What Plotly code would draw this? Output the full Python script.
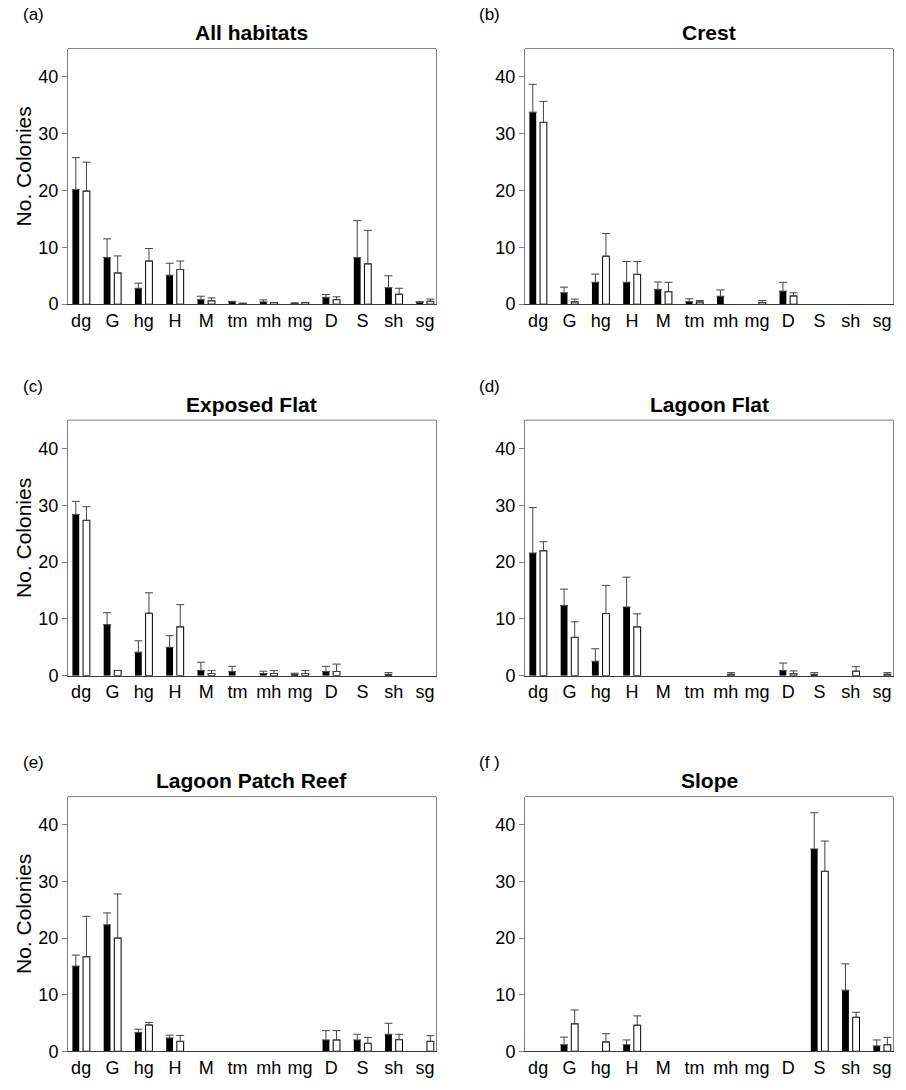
import plotly.graph_objects as go
from plotly.subplots import make_subplots

categories = ["dg", "G", "hg", "H", "M", "tm", "mh", "mg", "D", "S", "sh", "sg"]

titles = ["All habitats", "Crest", "Exposed Flat", "Lagoon Flat", "Lagoon Patch Reef", "Slope"]
panel_labels = ["(a)", "(b)", "(c)", "(d)", "(e)", "(f )"]

# (a) All habitats
a_black = [20.2, 8.2, 2.8, 5.1, 0.8, 0.4, 0.4, 0.15, 1.2, 8.2, 2.9, 0.3]
a_black_err = [5.6, 3.3, 0.9, 2.1, 0.6, 0.1, 0.35, 0, 0.5, 6.5, 2.1, 0.15]
a_white = [19.9, 5.5, 7.6, 6.1, 0.6, 0.15, 0.3, 0.3, 0.8, 7.1, 1.75, 0.5]
a_white_err = [5.1, 3.0, 2.2, 1.5, 0.5, 0, 0, 0, 0.5, 5.9, 1.05, 0.4]

# (b) Crest
b_black = [33.8, 2.0, 3.85, 3.85, 2.6, 0.45, 1.4, 0, 2.3, 0, 0, 0]
b_black_err = [4.9, 1.0, 1.45, 3.65, 1.3, 0.5, 1.1, 0, 1.55, 0, 0, 0]
b_white = [32.0, 0.4, 8.45, 5.25, 2.2, 0.4, 0, 0.3, 1.45, 0, 0, 0]
b_white_err = [3.7, 0.5, 4.0, 2.25, 1.65, 0.25, 0, 0.35, 0.55, 0, 0, 0]

# (c) Exposed Flat
c_black = [28.4, 9.0, 4.15, 5.0, 0.93, 0.75, 0.4, 0.25, 0.75, 0, 0.25, 0]
c_black_err = [2.3, 2.1, 2.0, 2.05, 1.45, 0.9, 0.4, 0.2, 0.9, 0, 0.3, 0]
c_white = [27.35, 0.93, 11.0, 8.6, 0.4, 0, 0.4, 0.4, 0.75, 0, 0, 0]
c_white_err = [2.4, 0, 3.6, 3.9, 0.5, 0, 0.5, 0.5, 1.3, 0, 0, 0]

# (d) Lagoon Flat
d_black = [21.6, 12.35, 2.55, 12.1, 0, 0, 0, 0, 0.93, 0.25, 0, 0]
d_black_err = [8.0, 2.9, 2.2, 5.25, 0, 0, 0, 0, 1.3, 0.3, 0, 0]
d_white = [22.0, 6.75, 10.95, 8.6, 0, 0, 0.25, 0, 0.35, 0, 0.8, 0.25]
d_white_err = [1.6, 2.75, 4.95, 2.3, 0, 0, 0.3, 0, 0.5, 0, 0.8, 0.3]

# (e) Lagoon Patch Reef
e_black = [15.05, 22.35, 3.3, 2.35, 0, 0, 0, 0, 2.0, 2.0, 3.0, 0]
e_black_err = [1.95, 2.1, 0.6, 0.5, 0, 0, 0, 0, 1.65, 1.0, 1.95, 0]
e_white = [16.7, 20.0, 4.65, 1.75, 0, 0, 0, 0, 2.0, 1.4, 2.05, 1.75]
e_white_err = [7.15, 7.8, 0.45, 1.05, 0, 0, 0, 0, 1.65, 1.05, 0.95, 1.0]

# (f) Slope
f_black = [0, 1.15, 0, 1.15, 0, 0, 0, 0, 0, 35.75, 10.8, 0.95]
f_black_err = [0, 1.35, 0, 0.85, 0, 0, 0, 0, 0, 6.4, 4.65, 1.05]
f_white = [0, 4.85, 1.65, 4.6, 0, 0, 0, 0, 0, 31.8, 6.0, 1.15]
f_white_err = [0, 2.45, 1.45, 1.65, 0, 0, 0, 0, 0, 5.35, 0.9, 1.3]

panels = [
    (a_black, a_black_err, a_white, a_white_err),
    (b_black, b_black_err, b_white, b_white_err),
    (c_black, c_black_err, c_white, c_white_err),
    (d_black, d_black_err, d_white, d_white_err),
    (e_black, e_black_err, e_white, e_white_err),
    (f_black, f_black_err, f_white, f_white_err),
]

W, H = 906, 1090
FONT = "Arial, 'Liberation Sans', Helvetica, sans-serif"

# pixel geometry of plot boxes
col_x = [(68, 436), (525, 893)]
row_y = [(49, 307), (424, 682), (804, 1061)]

fig = make_subplots(rows=3, cols=2)

ERR_COLOR = "#444444"


def nz(vals):
    # zero-height bars are not drawn in the reference
    return [v if v > 0 else None for v in vals]


for i, (bk, bke, wh, whe) in enumerate(panels):
    r, c = i // 2 + 1, i % 2 + 1
    fig.add_trace(go.Bar(
        x=categories, y=nz(bk), name="black",
        marker=dict(color="black", line=dict(color="black", width=0)),
        error_y=dict(type="data", array=bke, arrayminus=[0] * len(bke), symmetric=False,
                     color=ERR_COLOR, thickness=1, width=4),
        showlegend=False,
    ), row=r, col=c)
    fig.add_trace(go.Bar(
        x=categories, y=nz(wh), name="white",
        marker=dict(color="white", line=dict(color="black", width=1)),
        error_y=dict(type="data", array=whe, arrayminus=[0] * len(whe), symmetric=False,
                     color=ERR_COLOR, thickness=1, width=4),
        showlegend=False,
    ), row=r, col=c)

annotations = []
shapes = []
for i in range(6):
    r, c = i // 2, i % 2
    x0, x1 = col_x[c]
    y0, y1 = row_y[r]
    idx = "" if i == 0 else str(i + 1)
    fig.layout["xaxis" + idx].update(
        domain=[x0 / W, x1 / W],
        range=[-0.42, 11.35],
        showline=True, linecolor="#3a3a3a", linewidth=1, mirror=False,
        ticks="", showgrid=False, zeroline=False,
        tickfont=dict(family=FONT, size=18, color="black"),
    )
    fig.layout["yaxis" + idx].update(
        domain=[1 - y1 / H, 1 - y0 / H],
        range=[0, 45],
        tickvals=[0, 10, 20, 30, 40],
        showline=True, linecolor="#7f7f7f", linewidth=1, mirror=True,
        ticks="outside", ticklen=5, tickcolor="#7f7f7f",
        showgrid=False, zeroline=False,
        tickfont=dict(family=FONT, size=18, color="black"),
    )
    shapes.append(dict(type="line", xref="paper", yref="paper",
                       x0=x0 / W, x1=x1 / W, y0=1 - y0 / H, y1=1 - y0 / H,
                       line=dict(color="#7f7f7f", width=1)))
    # panel title
    annotations.append(dict(text="<b>" + titles[i] + "</b>", xref="paper", yref="paper",
                            x=(x0 + x1) / 2 / W, y=1 - (y0 - 16) / H,
                            xanchor="center", yanchor="middle", showarrow=False,
                            font=dict(family=FONT, size=21, color="black")))
    # panel label
    annotations.append(dict(text=panel_labels[i], xref="paper", yref="paper",
                            x=(21 if c == 0 else 477) / W, y=1 - (y0 - 34) / H,
                            xanchor="left", yanchor="middle", showarrow=False,
                            font=dict(family=FONT, size=17, color="black")))
    if c == 0:
        annotations.append(dict(text="No. Colonies", xref="paper", yref="paper",
                                x=23 / W, y=1 - ((y0 + y1) / 2 - 10) / H,
                                xanchor="center", yanchor="middle", textangle=-90,
                                showarrow=False,
                                font=dict(family=FONT, size=21, color="black")))

fig.update_layout(
    width=W, height=H, autosize=False,
    margin=dict(l=0, r=0, t=0, b=0),
    paper_bgcolor="white", plot_bgcolor="white",
    barmode="group", bargap=0.32, bargroupgap=0.36,
    annotations=annotations, shapes=shapes,
    font=dict(family=FONT, color="black"),
)

fig.write_html(
    "out.html",
    config={"displayModeBar": False, "responsive": False},
    post_script="document.body.style.margin='0';document.body.style.padding='0';"
                "document.body.style.overflow='hidden';",
)
